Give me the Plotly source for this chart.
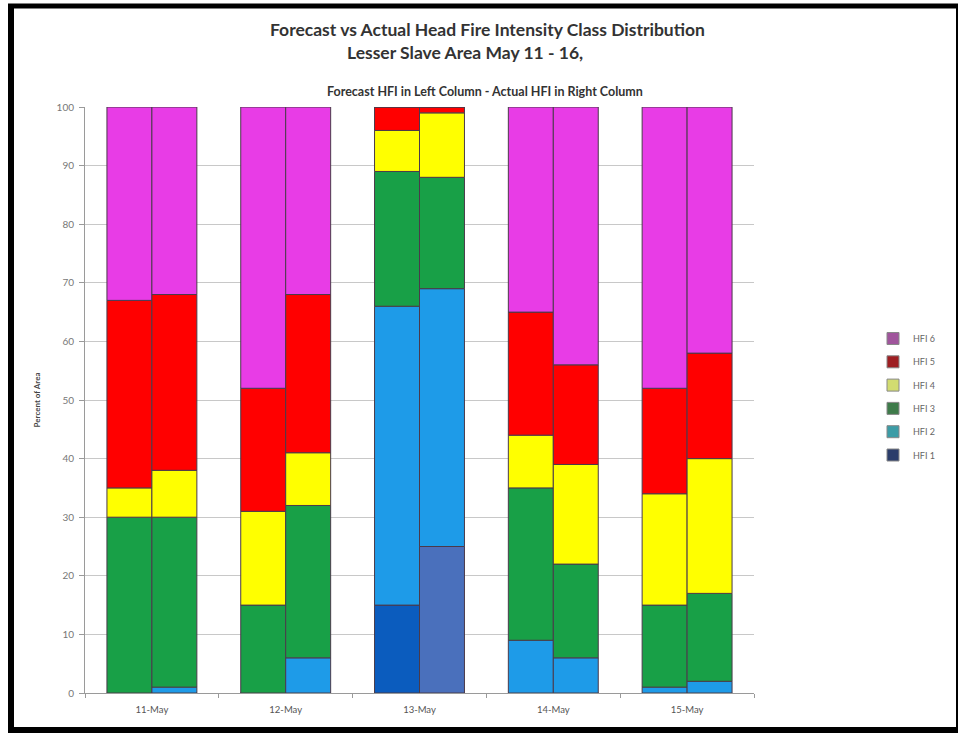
import numpy as np
import plotly.graph_objects as go

# Days on the category axis
days = ["11-May", "12-May", "13-May", "14-May", "15-May"]

# Percent of area in each HFI class (segment sizes, bottom to top)
classes = ["HFI 1", "HFI 2", "HFI 3", "HFI 4", "HFI 5", "HFI 6"]

forecast_hfi1 = [0, 0, 15, 0, 0]
forecast_hfi2 = [0, 0, 51, 9, 1]
forecast_hfi3 = [30, 15, 23, 26, 14]
forecast_hfi4 = [5, 16, 7, 9, 19]
forecast_hfi5 = [32, 21, 4, 21, 18]
forecast_hfi6 = [33, 48, 0, 35, 48]

actual_hfi1 = [0, 0, 25, 0, 0]
actual_hfi2 = [1, 6, 44, 6, 2]
actual_hfi3 = [29, 26, 19, 16, 15]
actual_hfi4 = [8, 9, 11, 17, 23]
actual_hfi5 = [30, 27, 1, 17, 18]
actual_hfi6 = [32, 32, 0, 44, 42]

forecast = [forecast_hfi1, forecast_hfi2, forecast_hfi3,
            forecast_hfi4, forecast_hfi5, forecast_hfi6]
actual = [actual_hfi1, actual_hfi2, actual_hfi3,
          actual_hfi4, actual_hfi5, actual_hfi6]

# Fill colours of the bar segments
bar_colors = ["#0B5CBE", "#1E9BE8", "#18A047", "#FFFF00", "#FF0000", "#E83CE6"]
actual_hfi1_color = "#4A70BC"
# Colours of the legend swatches
legend_colors = ["#2B3D6B", "#3C9CA6", "#3E7B4A", "#D2DC70", "#9E1E22", "#A0559C"]

FONT = "Lato"
BAR_W = 0.336

fig = go.Figure()


def add_column(values, offset, hfi1_color):
    arr = np.array(values, dtype=float)
    bases = np.vstack([np.zeros(arr.shape[1]), np.cumsum(arr, axis=0)[:-1]])
    for k, name in enumerate(classes):
        color = hfi1_color if k == 0 else bar_colors[k]
        fig.add_trace(go.Bar(
            x=days, y=arr[k], base=bases[k], name=name,
            offset=offset, width=BAR_W,
            marker=dict(color=color, line=dict(color="#4a3a4a", width=1)),
            showlegend=False,
            hovertemplate="%{x} " + name + ": %{y}%<extra></extra>",
        ))


add_column(forecast, -BAR_W, bar_colors[0])
add_column(actual, 0, actual_hfi1_color)

# Legend swatches (HFI 6 at the top)
for k in range(len(classes) - 1, -1, -1):
    fig.add_trace(go.Bar(
        x=[None], y=[None], name=classes[k],
        marker=dict(color=legend_colors[k], line=dict(color="#888", width=1)),
        legendgroup=classes[k], showlegend=True,
    ))

PX0, PX1 = 85, 754      # plot area horizontal extent
PY0, PY1 = 107, 693     # plot area vertical extent


def px(x):
    return (x - PX0) / (PX1 - PX0)


def py(y):
    return (PY1 - y) / (PY1 - PY0)


fig.update_layout(
    width=960, height=733,
    margin=dict(l=PX0, r=960 - PX1, t=PY0, b=733 - PY1),
    barmode="overlay",
    paper_bgcolor="white", plot_bgcolor="white",
    font=dict(family=FONT, color="#555"),
    showlegend=True,
    legend=dict(
        x=px(873), y=py(324), xanchor="left", yanchor="top",
        font=dict(size=9, color="#666", family=FONT),
        tracegroupgap=4.3, itemwidth=30,
        bgcolor="rgba(0,0,0,0)",
    ),
    xaxis=dict(
        type="category", range=[-0.5, 4.5],
        showgrid=False, showline=True, linecolor="#9a9a9a", linewidth=1,
        ticks="outside", tickson="boundaries", ticklen=4, tickcolor="#9a9a9a",
        tickfont=dict(size=9.5, color="#555", family=FONT),
        ticklabelstandoff=8,
        zeroline=False,
    ),
    yaxis=dict(
        range=[0, 100], tick0=0, dtick=10,
        showgrid=True, gridcolor="#c8c8c8", gridwidth=1,
        showline=True, linecolor="#9a9a9a", linewidth=1,
        ticks="outside", ticklen=5, tickcolor="#9a9a9a",
        tickfont=dict(size=10, color="#777", family=FONT),
        ticklabelstandoff=3,
        zeroline=False,
        title=dict(text="<b>Percent of Area</b>",
                   font=dict(size=8, color="#444", family=FONT),
                   standoff=14),
    ),
)

annotations = [
    dict(text="<b>Forecast vs Actual Head Fire Intensity Class Distribution</b>",
         x=px(487), y=py(30), font=dict(size=17.5, color="#333", family=FONT)),
    dict(text="<b>Lesser Slave Area May 11 - 16,</b>",
         x=px(465), y=py(53), font=dict(size=17.5, color="#333", family=FONT)),
    dict(text="<b>Forecast HFI in Left Column - Actual HFI in Right Column</b>",
         x=px(485), y=py(92), font=dict(size=12.5, color="#333", family=FONT)),
]
for a in annotations:
    a.update(xref="paper", yref="paper", xanchor="center", yanchor="middle",
             showarrow=False)
fig.update_layout(annotations=annotations)

# Outer frame around the whole chart
frame = [
    dict(x0=px(11), x1=px(11), y0=py(4), y1=py(731), w=6),
    dict(x0=px(8), x1=px(958), y0=py(6), y1=py(6), w=5),
    dict(x0=px(8), x1=px(958), y0=py(730), y1=py(730), w=6),
    dict(x0=px(957), x1=px(957), y0=py(4), y1=py(731), w=2),
]
fig.update_layout(shapes=[
    dict(type="line", xref="paper", yref="paper",
         x0=f["x0"], x1=f["x1"], y0=f["y0"], y1=f["y1"],
         line=dict(color="black", width=f["w"]), layer="above")
    for f in frame
])

fig.write_html("out.html")
